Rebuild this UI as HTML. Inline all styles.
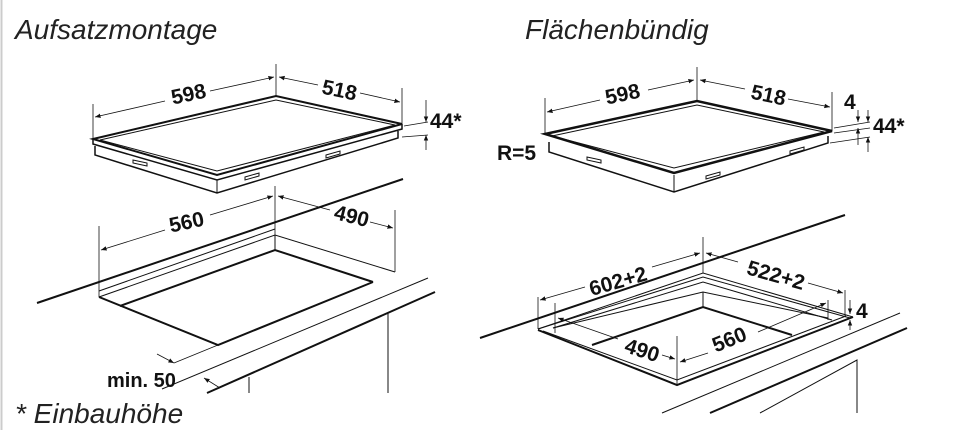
<!DOCTYPE html>
<html><head><meta charset="utf-8"><style>
html,body{margin:0;padding:0;background:#fff;}
svg{display:block}
.t{font-family:"Liberation Sans",sans-serif;font-style:italic;font-size:28px;fill:#222}
.d{font-family:"Liberation Sans",sans-serif;font-weight:bold;font-size:21px;fill:#111}
</style></head><body>
<svg width="969" height="430" viewBox="0 0 969 430" xmlns="http://www.w3.org/2000/svg">
<defs>
<marker id="a" viewBox="0 0 10 10" refX="10" refY="5" markerWidth="7" markerHeight="7" orient="auto-start-reverse"><path d="M0,1 L10,5 L0,9 z" fill="#111"/></marker>
</defs>
<line x1="1.5" y1="0" x2="1.5" y2="430" stroke="#ccc" stroke-width="2"/>
<text class="t" x="15" y="39">Aufsatzmontage</text>
<text class="t" x="525" y="39">Flächenbündig</text>
<text class="t" x="15" y="423">* Einbauhöhe</text>

<g stroke="#111" fill="none">
<!-- LEFT HOB -->
<path d="M93,139 L276,96 L402,124 L217,175 Z" stroke-width="2"/>
<path d="M100,140 L276,100 L395,125 L217,171 Z" stroke-width="1"/>
<path d="M93,139 L93,144 L217,180 L402,129 L402,124" stroke-width="1.5"/>
<path d="M95,146 L95,155 L217,193 L398,138 L398,131" stroke-width="1.5"/>
<line x1="217" y1="180" x2="217" y2="193" stroke-width="1"/>
<path d="M133,160 l14,3 l0,3 l-14,-3z M245,177 l14,-4 l0,3 l-14,4z M326,155 l14,-4 l0,3 l-14,4z" stroke-width="1"/>
<g stroke-width="0.8">
<line x1="276" y1="64" x2="276" y2="96"/><line x1="93" y1="104" x2="93" y2="139"/><line x1="402" y1="88" x2="402" y2="124"/>
<line x1="95" y1="117" x2="165" y2="101" marker-start="url(#a)"/><line x1="210" y1="91" x2="274" y2="77" marker-end="url(#a)"/>
<line x1="279" y1="77" x2="318" y2="85" marker-start="url(#a)"/><line x1="360" y1="93" x2="400" y2="102" marker-end="url(#a)"/>
<line x1="404" y1="126" x2="428" y2="122"/><line x1="402" y1="137" x2="428" y2="135"/>
<line x1="426" y1="100" x2="426" y2="122" marker-end="url(#a)"/><line x1="426" y1="150" x2="426" y2="135" marker-end="url(#a)"/>
</g>
<!-- LEFT CUTOUT -->
<line x1="37" y1="303" x2="403" y2="179" stroke-width="2"/>
<path d="M99,297 L275,235 L395,272" stroke-width="1"/>
<path d="M99,297 L218,345 L373,282" stroke-width="2"/>
<path d="M120,306 L275,250 L373,282" stroke-width="2"/>
<line x1="99" y1="291" x2="275" y2="229" stroke-width="1"/>
<line x1="275" y1="235" x2="275" y2="250" stroke-width="1"/>
<line x1="162" y1="389" x2="428" y2="278" stroke-width="1"/>
<line x1="207" y1="393" x2="435" y2="292" stroke-width="2"/>
<line x1="388" y1="313" x2="388" y2="393" stroke-width="1"/>
<line x1="249" y1="377" x2="249" y2="393" stroke-width="1"/>
<line x1="174" y1="363" x2="218" y2="345" stroke-width="0.8"/>
<g stroke-width="0.8">
<line x1="99" y1="226" x2="99" y2="297"/><line x1="275" y1="186" x2="275" y2="235"/><line x1="395" y1="210" x2="395" y2="272"/>
<line x1="101" y1="250" x2="165" y2="230" marker-start="url(#a)"/><line x1="210" y1="215" x2="273" y2="196" marker-end="url(#a)"/>
<line x1="278" y1="196" x2="330" y2="210" marker-start="url(#a)"/><line x1="370" y1="222" x2="393" y2="228" marker-end="url(#a)"/>
<line x1="157" y1="354" x2="174" y2="363" marker-end="url(#a)"/><line x1="220" y1="388" x2="204" y2="378" marker-end="url(#a)"/>
</g>
<!-- RIGHT HOB -->
<path d="M545,134 L697,101 L832,131 L674,173 Z" stroke-width="2.5"/>
<path d="M552,136 L697,105 L824,132 L674,168 Z" stroke-width="1"/>
<path d="M549,142 L549,152 L674,192 L828,143 L828,136" stroke-width="1.5"/>
<line x1="674" y1="175" x2="674" y2="192" stroke-width="1"/>
<path d="M587,157 l14,3 l0,3 l-14,-3z M706,176 l14,-4 l0,3 l-14,4z M790,151 l14,-4 l0,3 l-14,4z" stroke-width="1"/>
<g stroke-width="0.8">
<line x1="697" y1="67" x2="697" y2="101"/><line x1="545" y1="98" x2="545" y2="134"/><line x1="832" y1="92" x2="832" y2="131"/>
<line x1="547" y1="112" x2="600" y2="100" marker-start="url(#a)"/><line x1="648" y1="90" x2="694" y2="80" marker-end="url(#a)"/>
<line x1="700" y1="80" x2="745" y2="89" marker-start="url(#a)"/><line x1="788" y1="99" x2="830" y2="107" marker-end="url(#a)"/>
<line x1="834" y1="128" x2="870" y2="122"/><line x1="834" y1="133" x2="870" y2="128"/><line x1="830" y1="143" x2="870" y2="137"/>
<line x1="858" y1="110" x2="858" y2="122" marker-end="url(#a)"/><line x1="858" y1="145" x2="858" y2="128" marker-end="url(#a)"/>
<line x1="868" y1="110" x2="868" y2="122" marker-end="url(#a)"/><line x1="868" y1="152" x2="868" y2="137" marker-end="url(#a)"/>
</g>
<!-- RIGHT CUTOUT -->
<line x1="480" y1="338" x2="845" y2="215" stroke-width="2"/>
<path d="M538,329 L703,273 L853,317" stroke-width="1"/>
<path d="M538,330 L677,385 L853,317" stroke-width="2"/>
<path d="M543,331 L677,380 L846,316" stroke-width="1"/>
<path d="M538,329 L703,277 L850,318" stroke-width="1"/>
<path d="M553,328 L703,282 L832,320" stroke-width="1"/>
<path d="M553,328 L703,292 L828,318" stroke-width="1"/>
<path d="M592,345 L703,307 L792,335" stroke-width="2"/>
<line x1="703" y1="292" x2="703" y2="307" stroke-width="1"/>
<line x1="662" y1="413" x2="900" y2="313" stroke-width="1"/>
<line x1="710" y1="413" x2="907" y2="328" stroke-width="2"/>
<path d="M857,413 L857,360 L760,413" stroke-width="1"/>
<g stroke-width="0.8">
<line x1="538" y1="297" x2="538" y2="329"/><line x1="703" y1="237" x2="703" y2="273"/><line x1="845" y1="290" x2="845" y2="317"/>
<line x1="555" y1="303" x2="555" y2="333"/><line x1="677" y1="336" x2="677" y2="385"/><line x1="828" y1="300" x2="828" y2="320"/>
<line x1="540" y1="300" x2="585" y2="287" marker-start="url(#a)"/><line x1="652" y1="267" x2="700" y2="253" marker-end="url(#a)"/>
<line x1="706" y1="253" x2="738" y2="262" marker-start="url(#a)"/><line x1="808" y1="283" x2="843" y2="293" marker-end="url(#a)"/>
<line x1="558" y1="318" x2="618" y2="339" marker-start="url(#a)"/><line x1="662" y1="355" x2="675" y2="359" marker-end="url(#a)"/>
<line x1="680" y1="362" x2="708" y2="353" marker-start="url(#a)"/><line x1="758" y1="332" x2="826" y2="303" marker-end="url(#a)"/>
<line x1="850" y1="300" x2="850" y2="314" marker-end="url(#a)"/><line x1="850" y1="330" x2="850" y2="320" marker-end="url(#a)"/>
</g>
</g>
<g class="d">
<text x="190" y="101" transform="rotate(-12 190 101)" text-anchor="middle">598</text>
<text x="338" y="97" transform="rotate(12 338 97)" text-anchor="middle">518</text>
<text x="430" y="128">44*</text>
<text x="188" y="229" transform="rotate(-12 188 229)" text-anchor="middle">560</text>
<text x="350" y="223" transform="rotate(14 350 223)" text-anchor="middle">490</text>
<text x="107" y="387" style="font-size:20px">min. 50</text>
<text x="624" y="101" transform="rotate(-12 624 101)" text-anchor="middle">598</text>
<text x="767" y="102" transform="rotate(12 767 102)" text-anchor="middle">518</text>
<text x="844" y="109">4</text>
<text x="873" y="133">44*</text>
<text x="497" y="160">R=5</text>
<text x="620" y="288" transform="rotate(-16 620 288)" text-anchor="middle">602+2</text>
<text x="774" y="282" transform="rotate(16 774 282)" text-anchor="middle">522+2</text>
<text x="640" y="357" transform="rotate(18 640 357)" text-anchor="middle">490</text>
<text x="732" y="346" transform="rotate(-22 732 346)" text-anchor="middle">560</text>
<text x="856" y="318">4</text>
</g>
</svg>
</body></html>
